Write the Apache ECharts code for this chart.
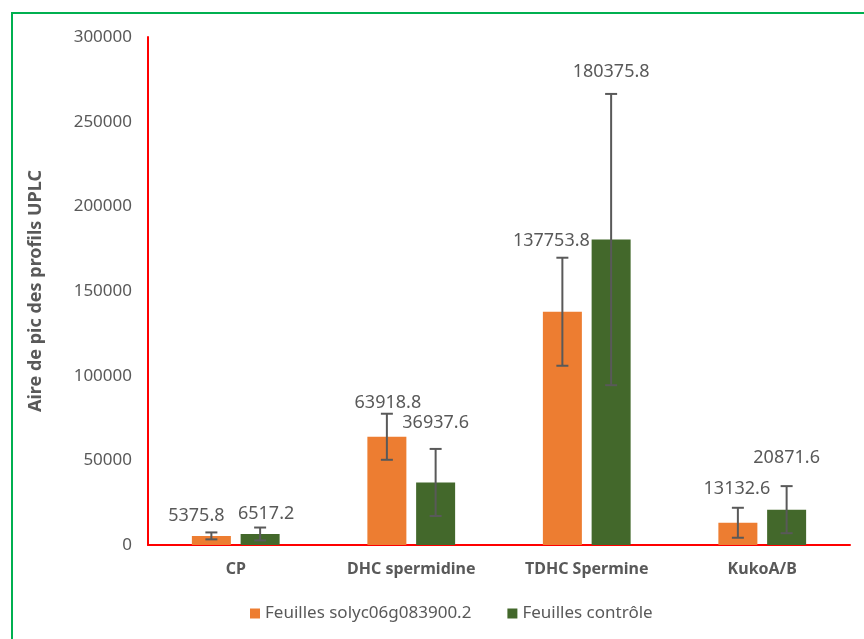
<!DOCTYPE html>
<html>
<head>
<meta charset="utf-8">
<script src="https://cdn.jsdelivr.net/npm/echarts@6/dist/echarts.min.js"></script>
<style>
html,body{margin:0;padding:0;background:#fff;}
#chart{width:864px;height:639px;}
</style>
</head>
<body>
<div id="chart"></div>
<script>
var categories = ['CP', 'DHC spermidine', 'TDHC Spermine', 'KukoA/B'];
var seriesNames = ['Feuilles solyc06g083900.2', 'Feuilles contrôle'];
var orangeValues = [5375.8, 63918.8, 137753.8, 13132.6];
var greenValues = [6517.2, 36937.6, 180375.8, 20871.6];
var orangeErrors = [2050, 13600, 31900, 8850];
var greenErrors = [3800, 19800, 86000, 13900];
var yTicks = [0, 50000, 100000, 150000, 200000, 250000, 300000];

// layout: manual data-label nudges (pixels) as placed in the original
var orangeLabelNudge = [[-15, -17], [1, -11], [-11, -17], [-1, -19]];
var greenLabelNudge = [[6, -14], [0, -26], [0, -22], [0, -28]];

var FONT = '"Noto Sans", "Open Sans", sans-serif';
var TEXT = '#595959';
var BAR_W = 39;
var GAP_RATIO = 0.25;

function errSeries(name, values, errors, side, nudges) {
  var data = values.map(function (v, i) { return [i, v, errors[i]]; });
  return {
    type: 'custom',
    name: name + ' err',
    z: 5,
    silent: true,
    data: data,
    renderItem: function (params, api) {
      var i = api.value(0), v = api.value(1), e = api.value(2);
      var offset = side * (BAR_W / 2 + BAR_W * GAP_RATIO / 2);
      var top = api.coord([i, v + e]);
      var bot = api.coord([i, v - e]);
      var x = top[0] + offset;
      var cap = 6;
      var st = { stroke: '#595959', lineWidth: 2 };
      var n = nudges[params.dataIndex];
      return {
        type: 'group',
        children: [
          { type: 'line', shape: { x1: x, y1: top[1], x2: x, y2: bot[1] }, style: st },
          { type: 'line', shape: { x1: x - cap, y1: top[1], x2: x + cap, y2: top[1] }, style: st },
          { type: 'line', shape: { x1: x - cap, y1: bot[1], x2: x + cap, y2: bot[1] }, style: st },
          { type: 'text', z2: 10, style: { x: x + n[0], y: top[1] + n[1], text: String(v), align: 'center', verticalAlign: 'middle', fill: TEXT, fontSize: 18, fontFamily: FONT } }
        ]
      };
    }
  };
}

var chart = echarts.init(document.getElementById('chart'));
chart.setOption({
  animation: false,
  backgroundColor: '#ffffff',
  graphic: [{
    type: 'rect',
    shape: { x: 12, y: 13, width: 900, height: 700 },
    style: { fill: 'none', stroke: '#00B050', lineWidth: 2 },
    silent: true
  }],
  grid: { left: 148, right: 14, top: 37, bottom: 94 },
  legend: {
    left: 245,
    top: 600,
    itemWidth: 10,
    itemHeight: 10,
    itemGap: 36,
    icon: 'rect',
    data: seriesNames,
    textStyle: { color: TEXT, fontSize: 17, fontFamily: FONT }
  },
  xAxis: {
    type: 'category',
    data: categories,
    axisLine: { lineStyle: { color: '#FF0000', width: 2 } },
    axisTick: { show: false },
    axisLabel: { color: TEXT, fontSize: 16, fontWeight: 'bold', fontFamily: FONT, margin: 16 }
  },
  yAxis: {
    type: 'value',
    min: yTicks[0],
    max: yTicks[yTicks.length - 1],
    interval: yTicks[1] - yTicks[0],
    name: 'Aire de pic des profils UPLC',
    nameLocation: 'middle',
    nameGap: 103,
    nameTextStyle: { color: TEXT, fontSize: 18, fontWeight: 'bold', fontFamily: FONT },
    axisLine: { show: true, lineStyle: { color: '#FF0000', width: 2 } },
    axisTick: { show: false },
    splitLine: { show: false },
    axisLabel: { color: TEXT, fontSize: 17, fontFamily: FONT, margin: 16, formatter: function (v) { return String(v); } }
  },
  series: [
    { type: 'bar', name: seriesNames[0], data: orangeValues, barWidth: BAR_W, barGap: (GAP_RATIO * 100) + '%', itemStyle: { color: '#ED7D31' } },
    { type: 'bar', name: seriesNames[1], data: greenValues, barWidth: BAR_W, barGap: (GAP_RATIO * 100) + '%', itemStyle: { color: '#43682B' } },
    errSeries(seriesNames[0], orangeValues, orangeErrors, -1, orangeLabelNudge),
    errSeries(seriesNames[1], greenValues, greenErrors, 1, greenLabelNudge)
  ]
});
</script>
</body>
</html>
